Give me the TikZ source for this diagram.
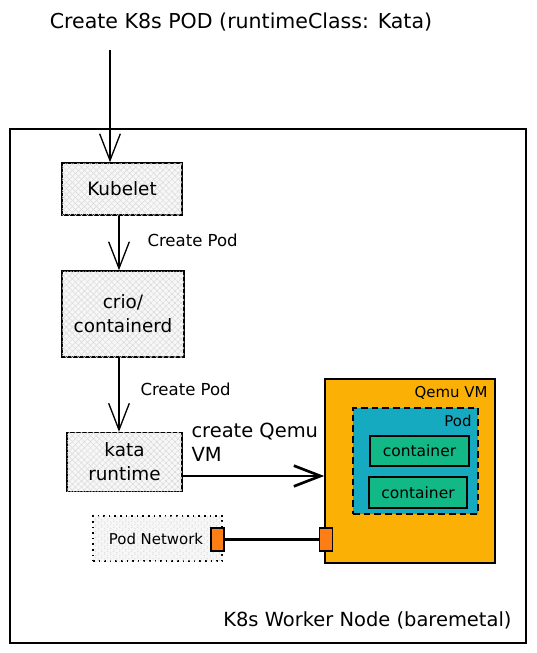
\documentclass[tikz,border=0pt]{standalone}
\usepackage{fontspec}
\setmainfont{DejaVu Sans}
\usetikzlibrary{arrows.meta,patterns.meta}

\definecolor{qemuorange}{RGB}{250,176,5}
\definecolor{podcyan}{RGB}{21,170,191}
\definecolor{ctrgreen}{RGB}{18,184,134}
\definecolor{portorange}{RGB}{253,126,20}

\tikzset{every picture/.style={line width=0.75pt}}
\tikzset{
  hatchbox/.style={draw, line width=1.1pt, fill=gray!6, align=center, inner sep=0pt,
    font=\fontsize{13.8}{18}\selectfont,
    postaction={pattern={Lines[angle=45,distance=3.2pt,line width=0.35pt]}, pattern color=gray!30},
    postaction={pattern={Lines[angle=-45,distance=3.2pt,line width=0.35pt]}, pattern color=gray!30}},
  bigtext/.style={inner sep=0.75pt, font=\fontsize{14.6}{18}\selectfont},
  labeltext/.style={inner sep=0.75pt, font=\fontsize{12.4}{15}\selectfont},
  smalltext/.style={inner sep=0.75pt, font=\fontsize{11.2}{14}\selectfont},
  ctrbox/.style={draw, line width=1.1pt, fill=ctrgreen, inner sep=0pt, font=\fontsize{11.6}{14}\selectfont},
  portbox/.style={draw, line width=1pt, fill=portorange, inner sep=0pt, minimum width=9.75pt, minimum height=17.25pt},
  barb/.style={-{Straight Barb[length=20pt,width=15.5pt]}, line width=1pt}
}

\begin{document}
\begin{tikzpicture}[x=0.75pt,y=0.75pt,yscale=-1,xscale=1]
\useasboundingbox (0,0) rectangle (536,653);

%Shape: Rectangle [worker node]
\draw [line width=1pt] (10,129) -- (526,129) -- (526,643) -- (10,643) -- cycle ;
%Shape: Rectangle [qemu vm]
\node (qemu) [draw, line width=1.2pt, fill=qemuorange, minimum width=127.5pt, minimum height=138pt] at (410,471) {};
%Shape: Rectangle [pod]
\node (pod) [draw, line width=1.1pt, fill=podcyan, dash pattern={on 5pt off 3pt}, minimum width=93.75pt, minimum height=79.5pt] at (415.5,461) {};
%Shape: Rectangle [containers]
\node (ctrone) [ctrbox, minimum width=74.25pt, minimum height=22.5pt] at (419.5,451) {container};
\node (ctrtwo) [ctrbox, minimum width=73.5pt, minimum height=23.25pt] at (418,492.5) {container};

%Shape: Rectangle [kubelet]
\node (kubelet) [hatchbox, minimum width=90pt, minimum height=39pt] at (122,189) {Kubelet};
%Shape: Rectangle [crio]
\node (crio) [hatchbox, minimum width=91.5pt, minimum height=64.5pt] at (123,314) {crio/\\containerd};
%Shape: Rectangle [kata]
\node (kata) [hatchbox, minimum width=86.25pt, minimum height=44.25pt] at (124.5,462) {kata\\runtime};
%Shape: Rectangle [pod network]
\node (podnet) [hatchbox, line width=1pt, dash pattern={on 1.2pt off 3pt}, minimum width=96.75pt, minimum height=33.75pt] at (157.5,538.5) {};
\node (podnettext) [smalltext] at (156,538.5) {Pod Network};
%Shape: Rectangle [ports]
\node (portnet) [portbox] at (217.5,539.5) {};
\node (portvm) [portbox] at (326,539.5) {};

%Straight Lines [arrows]
\coordinate (request) at (110,50);
\draw [barb] (request) -- (request |- kubelet.north);
\coordinate (down) at (119,0);
\draw [barb] (down |- kubelet.south) -- (down |- crio.north);
\draw [barb] (down |- crio.south) -- (down |- kata.north);
\coordinate (kataout) at (182,476);
\draw [barb, line width=2pt] (kataout) -- (kataout -| qemu.west);
\draw [line width=2.4pt] (portnet.east) -- (portvm.west);

% Text Node
\node (title) [bigtext, font=\fontsize{15.4}{18}\selectfont] at (241,22) {Create K8s POD (runtimeClass: Kata)};
% Text Node
\node (createone) [labeltext, anchor=west] at (146,240) {Create Pod};
% Text Node
\node (createtwo) [labeltext, anchor=west] at (139,389) {Create Pod};
% Text Node
\node (createvm) [bigtext, anchor=north west, align=left] at (190,422) {create Qemu\\VM};
% Text Node
\node (qemulabel) [smalltext, anchor=east] at (489,393) {Qemu VM};
% Text Node
\node (podlabel) [smalltext, anchor=east] at (473,421) {Pod};
% Text Node
\node (workerlabel) [bigtext, anchor=east] at (513,620) {K8s Worker Node (baremetal)};

\end{tikzpicture}
\end{document}
